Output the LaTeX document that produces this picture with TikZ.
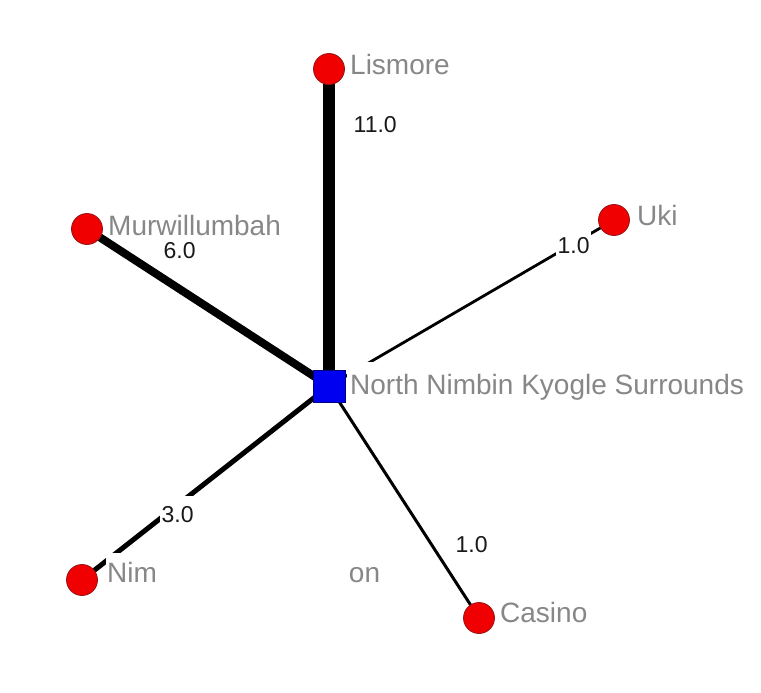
\documentclass[tikz,border=0pt]{standalone}
\usepackage{fontspec}
\setmainfont{Liberation Sans}
\usetikzlibrary{backgrounds}
\definecolor{nodered}{RGB}{240,0,0}
\definecolor{nodeline}{RGB}{150,20,20}
\definecolor{hubblue}{RGB}{0,0,240}
\definecolor{lblgray}{RGB}{135,135,135}
\begin{document}
\begin{tikzpicture}[x=1pt,y=-1pt,
  leaf/.style={circle,fill=nodered,draw=nodeline,line width=0.8pt,minimum size=31pt,inner sep=0pt},
  hub/.style={rectangle,fill=hubblue,draw=blue!50!black,line width=0.8pt,minimum size=32pt,inner sep=0pt},
  lbl/.style={anchor=base west,text=lblgray,font=\fontsize{28}{31}\selectfont,inner sep=0pt},
  elbl/.style={anchor=base west,text=black!90,font=\fontsize{23}{26}\selectfont,inner xsep=1.5pt,inner ysep=0pt,text height=26pt,text depth=4pt,fill=white},
  link/.style={draw=black,line cap=butt}]
\useasboundingbox (0,0) rectangle (761,693);

% nodes
\node[hub]  (c)   at (329,386) {};
\node[leaf] (lis) at (329,69)  {};
\node[leaf] (mur) at (87,229)  {};
\node[leaf] (uki) at (614,220) {};
\node[leaf] (cas) at (479,618) {};
\node[leaf] (nim) at (82,580)  {};

% edge labels
\node[elbl] (e1) at (352,132) {11.0};
\node[elbl] (e2) at (162,258) {6.0};
\node[elbl] (e3) at (556,253) {1.0};
\node[elbl] (e4) at (160,522) {3.0};
\node[elbl] (e5) at (454,552) {1.0};

% node labels
\node[lbl] (lisL) at (350,75)  {Lismore};
\node[lbl] (murL) at (108,235) {Murwillumbah};
\node[lbl] (ukiL) at (637,225) {Uki};
\node[lbl] (casL) at (500,622) {Casino};
\node[lbl,fill=white,inner xsep=3pt,text height=32pt] (cL) at (347,394) {North Nimbin Kyogle Surrounds};
\node[lbl,fill=white,inner xsep=1pt,text height=29pt] (nimL) at (106,582) {Nim\hspace{192pt}on};

% edges
\begin{scope}[on background layer]
  \draw[link,line width=12pt] (c.center) -- (lis.center);
  \draw[link,line width=8pt]  (c.center) -- (mur.center);
  \draw[link,line width=2.8pt] (c.center) -- (uki.center);
  \draw[link,line width=3pt]  (c.center) -- (cas.center);
  \draw[link,line width=5pt]  (c.center) -- (nim.center);
\end{scope}
\end{tikzpicture}
\end{document}
